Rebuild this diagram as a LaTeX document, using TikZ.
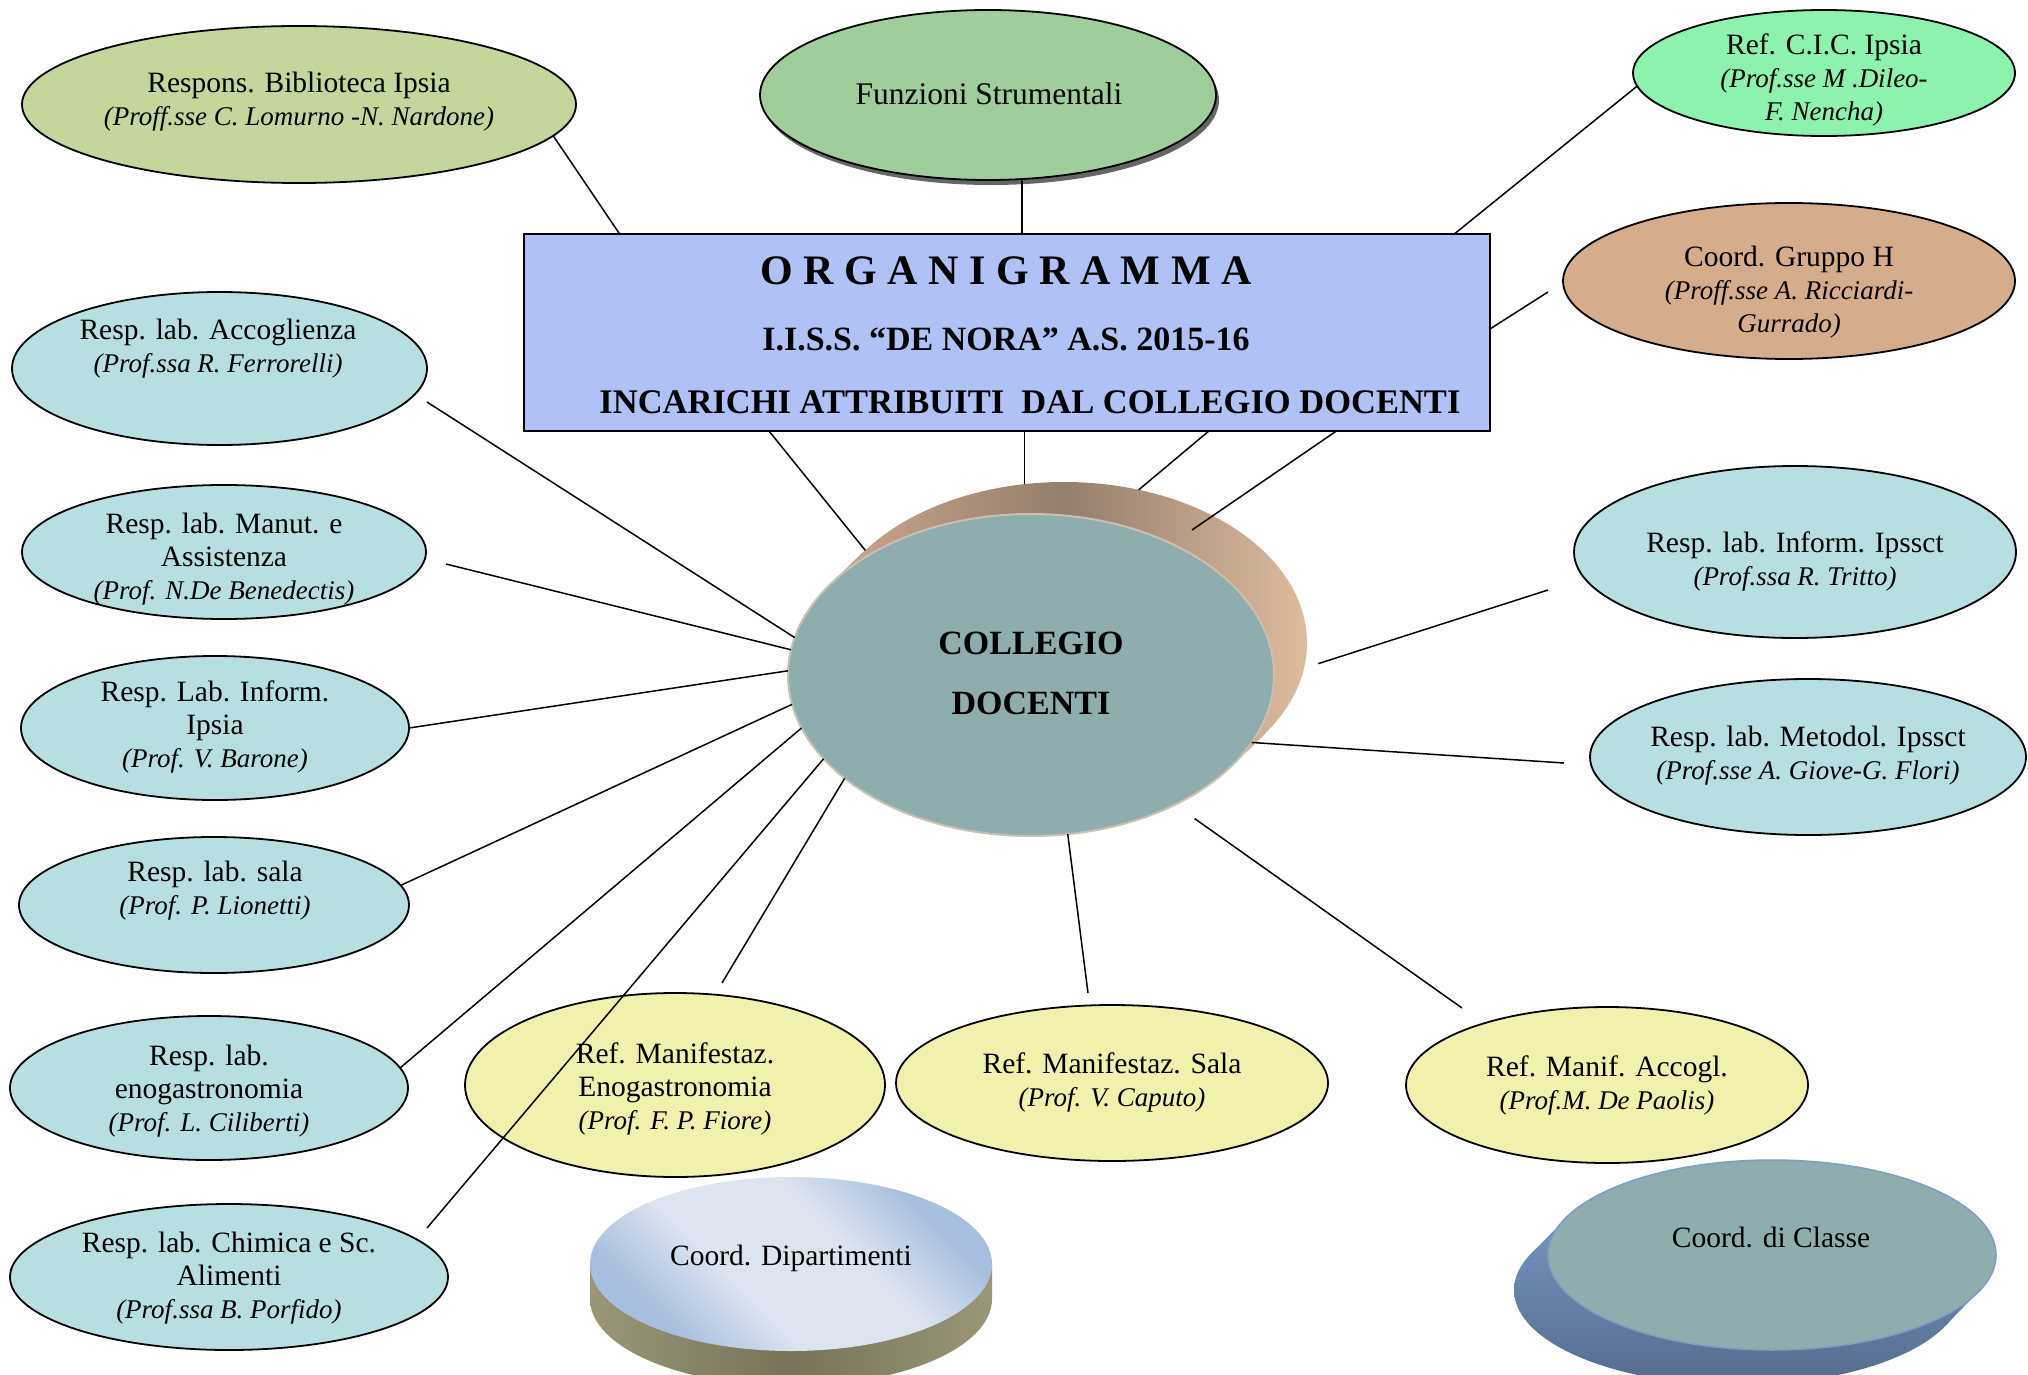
\documentclass[tikz,border=0pt]{standalone}
\usepackage{fontspec}
\setmainfont{Liberation Serif}
\usetikzlibrary{shapes.geometric,calc,shadows}
\definecolor{boxc}{HTML}{AFC1F5}
\definecolor{bibc}{HTML}{C3D69B}
\definecolor{funzc}{HTML}{9FCE9C}
\definecolor{cicc}{HTML}{8CF2AE}
\definecolor{grhc}{HTML}{D6AD8C}
\definecolor{tealc}{HTML}{B7DFE2}
\definecolor{yelc}{HTML}{F1F0AD}
\definecolor{collc}{HTML}{8FADAF}
\definecolor{collrim}{HTML}{C8C1B3}
\definecolor{sidedark}{HTML}{947E6E}
\definecolor{sideleft}{HTML}{CFAA8C}
\definecolor{sidelight}{HTML}{E0BD9E}
\definecolor{dipblue}{HTML}{A8BEDE}
\definecolor{diplight}{HTML}{DCE4F0}
\definecolor{olivel}{HTML}{9A9676}
\definecolor{olived}{HTML}{77735A}
\definecolor{clsrim}{HTML}{7E9DC4}
\definecolor{clsl}{HTML}{80A2CF}
\definecolor{clsd}{HTML}{53688A}
\pgfdeclareverticalshading{dipsh}{100bp}{color(0bp)=(dipblue); color(27bp)=(dipblue); color(41bp)=(diplight); color(59bp)=(diplight); color(73bp)=(dipblue); color(100bp)=(dipblue)}
\newcommand\pfx[1]{{\fontsize{27}{33}\selectfont\itshape #1}}
\begin{document}
\begin{tikzpicture}[x=1pt,y=-1pt,
  ell/.style={ellipse, draw=black, line width=1.8pt, inner sep=0pt, outer sep=0pt},
  txt/.style={align=center, inner sep=0pt, font=\fontsize{29.5}{33}\selectfont},
  conn/.style={draw=black, line width=1.5pt},
  sideshade/.style={left color=sideleft, right color=sidelight, middle color=sidedark}]
\useasboundingbox (0,0) rectangle (2028,1375);
\clip (0,0) rectangle (2028,1375);
\fill[white] (0,0) rectangle (2028,1375);

% Collegio body (extrusion)
\begin{scope}
\clip (1232,766) -- (1265,734) -- (863,552) -- (830,584) -- cycle;
\shade[sideshade] (820,478) rectangle (1312,840);
\end{scope}
\begin{scope}
\clip (1064,643) ellipse [x radius=243pt, y radius=161pt];
\shade[sideshade] (820,478) rectangle (1312,840);
\end{scope}
\node[ellipse, inner sep=0pt, outer sep=0pt, minimum width=486pt, minimum height=322pt] (collb) at (1064,643) {};
\node[ell, draw=collrim, line width=2pt, fill=collc, minimum width=486pt, minimum height=322pt] (coll) at (1031,675) {};

% Coord. Dipartimenti cylinder
\shade[left color=olivel, right color=olivel, middle color=olived] (590,1264) -- (590,1299) arc[start angle=180, end angle=360, x radius=201pt, y radius=87pt] -- (992,1264) -- cycle;
\node[ellipse, inner sep=0pt, outer sep=0pt, minimum width=402pt, minimum height=174pt, shade, shading=dipsh, shading angle=-45] (dip) at (791,1264) {};

% Coord. di Classe body
\begin{scope}
\clip (1565,1219) -- (1531,1254) -- (1945,1326) -- (1979,1291) -- cycle;
\shade[top color=clsl, bottom color=clsd] (1500,1160) rectangle (2010,1400);
\end{scope}
\begin{scope}
\clip (1738,1290) ellipse [x radius=224pt, y radius=95pt];
\shade[top color=clsl, bottom color=clsd] (1500,1160) rectangle (2010,1400);
\end{scope}
\node[ellipse, draw=clsrim, line width=1.5pt, fill=collc, inner sep=0pt, outer sep=0pt, minimum width=448pt, minimum height=190pt] (classe) at (1772,1255) {};

% Title box
\node[draw=black, line width=1.5pt, fill=boxc, minimum width=966pt, minimum height=197pt, inner sep=0pt, outer sep=0pt] (box) at (1007,332.5) {};

% Ellipses
\node[ell, fill=bibc, minimum width=554pt, minimum height=157pt] (bib) at (299,104.5) {};
\node[ell, fill=funzc, minimum width=456pt, minimum height=170pt, drop shadow={shadow xshift=3pt, shadow yshift=-5pt, fill=black!60, opacity=1}] (funz) at (988,95) {};
\node[ell, fill=cicc, minimum width=382pt, minimum height=126pt] (cic) at (1824,73) {};
\node[ell, fill=grhc, minimum width=452pt, minimum height=156pt] (grH) at (1789,281) {};
\node[ell, fill=tealc, minimum width=415pt, minimum height=153pt] (acc) at (219.5,368.5) {};
\node[ell, fill=tealc, minimum width=404pt, minimum height=134pt] (manut) at (224,552) {};
\node[ell, fill=tealc, minimum width=388pt, minimum height=144pt] (infIpsia) at (215,728) {};
\node[ell, fill=tealc, minimum width=390pt, minimum height=136pt] (sala) at (214,905) {};
\node[ell, fill=tealc, minimum width=398pt, minimum height=144pt] (enog) at (209,1088) {};
\node[ell, fill=tealc, minimum width=438pt, minimum height=146pt] (chim) at (229,1277) {};
\node[ell, fill=yelc, minimum width=420pt, minimum height=184pt] (mEnog) at (675,1085) {};
\node[ell, fill=yelc, minimum width=432pt, minimum height=156pt] (mSala) at (1112,1083) {};
\node[ell, fill=yelc, minimum width=402pt, minimum height=156pt] (mAcc) at (1607,1085) {};
\node[ell, fill=tealc, minimum width=442pt, minimum height=172pt] (ipssct) at (1795,552) {};
\node[ell, fill=tealc, minimum width=436pt, minimum height=156pt] (metod) at (1808,757) {};

% free ends of connectors
\coordinate (grHe) at (1548,292);
\coordinate (acce) at (427,402);
\coordinate (manute) at (446,564);
\coordinate (chime) at (427,1228);
\coordinate (mEnoge) at (722,983);
\coordinate (mSalae) at (1088,993);
\coordinate (mAcce) at (1462,1008);
\coordinate (metode) at (1564,763);
\coordinate (ipsscte) at (1548,590);
\coordinate (collside) at (1192,530);

% connectors
\draw[conn] (bib.-7.6) -- ($(box.north west)!0.099!(box.north east)$);
\draw[conn] (funz.-68) -- (funz.-68 |- box.north);
\draw[conn] (cic.184) -- ($(box.north west)!0.963!(box.north east)$);
\draw[conn] (grHe) -- ($(box.north east)!0.482!(box.south east)$);
\draw[conn] (acce) -- (coll.171.5);
\draw[conn] (manute) -- (coll.174.3);
\draw[conn] (infIpsia.east) -- (coll.179.5);
\draw[conn] (sala.6) -- (coll.187.1);
\draw[conn] (enog.6.2) -- (coll.193.6);
\draw[conn] (chime) -- (coll.202.6);
\draw[conn] (mEnoge) -- (coll.209.2);
\draw[conn] (mSalae) -- (coll.-77.4);
\draw[conn, shorten <=24pt] (coll.-42.9) -- (mAcce);
\draw[conn] (metode) -- (coll.-17.5);
\draw[conn, shorten >=15pt] (ipsscte) -- (collb.-6);
\draw[conn] ($(box.south west)!0.2536!(box.south east)$) -- (collb.155);
\draw[conn] (collb.104 |- box.south) -- (collb.104);
\draw[conn] ($(box.south west)!0.709!(box.south east)$) -- (collb.64.8);
\draw[conn] ($(box.south west)!0.841!(box.south east)$) -- (collside);

% texts
\node[txt, font=\fontsize{42}{42}\selectfont\bfseries] (orgT) at (1006,271) {O R G A N I G R A M M A};
\node[txt, font=\fontsize{34}{34}\selectfont\bfseries] (issT) at (1006,339) {I.I.S.S. “DE NORA” A.S. 2015-16};
\node[txt, font=\fontsize{34.5}{34}\selectfont\bfseries] (incT) at (1030,402) {INCARICHI ATTRIBUITI\ \ DAL COLLEGIO DOCENTI};
\node[txt, font=\fontsize{34}{60}\selectfont\bfseries] (collT) at (1031,673) {COLLEGIO\\DOCENTI};
\node[txt] (bibT) at (299,102) {Respons. Biblioteca Ipsia\\\pfx{(Proff.sse C. Lomurno -N. Nardone)}};
\node[txt, font=\fontsize{31.5}{33}\selectfont] (funzT) at (989,94) {Funzioni Strumentali};
\node[txt] (cicT) at (1824,80) {Ref. C.I.C. Ipsia\\\pfx{(Prof.sse M .Dileo-}\\\pfx{F. Nencha)}};
\node[txt] (grHT) at (1789,292) {Coord. Gruppo H\\\pfx{(Proff.sse A. Ricciardi-}\\\pfx{Gurrado)}};
\node[txt] (accT) at (218,349) {Resp. lab. Accoglienza\\\pfx{(Prof.ssa R. Ferrorelli)}};
\node[txt] (manutT) at (224,559) {Resp. lab. Manut. e\\Assistenza\\\pfx{(Prof. N.De Benedectis)}};
\node[txt] (infIpsiaT) at (215,727) {Resp. Lab. Inform.\\Ipsia\\\pfx{(Prof. V. Barone)}};
\node[txt] (salaT) at (215,891) {Resp. lab. sala\\\pfx{(Prof. P. Lionetti)}};
\node[txt] (enogT) at (209,1091) {Resp. lab.\\enogastronomia\\\pfx{(Prof. L. Ciliberti)}};
\node[txt] (chimT) at (229,1278) {Resp. lab. Chimica e Sc.\\Alimenti\\\pfx{(Prof.ssa B. Porfido)}};
\node[txt] (mEnogT) at (675,1089) {Ref. Manifestaz.\\Enogastronomia\\\pfx{(Prof. F. P. Fiore)}};
\node[txt] (mSalaT) at (1112,1082) {Ref. Manifestaz. Sala\\\pfx{(Prof. V. Caputo)}};
\node[txt] (mAccT) at (1607,1085) {Ref. Manif. Accogl.\\\pfx{(Prof.M. De Paolis)}};
\node[txt] (ipssctT) at (1795,561) {Resp. lab. Inform. Ipssct\\\pfx{(Prof.ssa R. Tritto)}};
\node[txt] (metodT) at (1808,756) {Resp. lab. Metodol. Ipssct\\\pfx{(Prof.sse A. Giove-G. Flori)}};
\node[txt] (dipT) at (791,1258) {Coord. Dipartimenti};
\node[txt] (classeT) at (1771,1237) {Coord. di Classe};
\end{tikzpicture}
\end{document}
